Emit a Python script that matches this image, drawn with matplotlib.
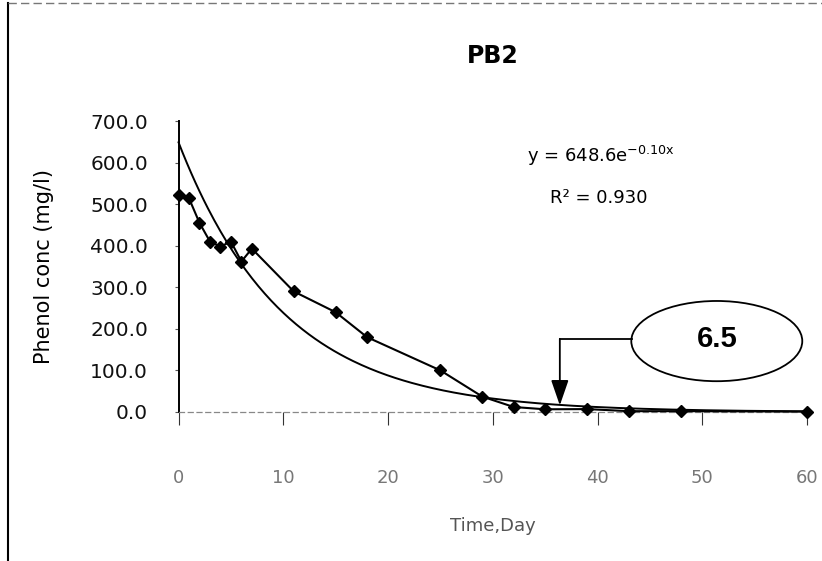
import numpy as np
import matplotlib.pyplot as plt
from matplotlib.patches import Ellipse
from matplotlib.lines import Line2D

# measured phenol concentration, PB2
days = [0, 1, 2, 3, 4, 5, 6, 7, 11, 15, 18, 25, 29, 32, 35, 39, 43, 48, 60]
phenol = [522, 514, 455, 410, 398, 410, 362, 393, 290, 240, 180, 100, 37, 12, 6.5, 7, 2, 2, 1]

# exponential fit y = a * exp(b * x)
fit_a = 648.6
fit_b = -0.10
fit_r2 = 0.930

x_ticks = [0, 10, 20, 30, 40, 50, 60]
y_ticks = [0, 100, 200, 300, 400, 500, 600, 700]

fig = plt.figure(figsize=(8.22, 5.61), dpi=100)
ax = fig.add_axes([0.2172, 0.2656, 0.7646, 0.5187])

ax.plot(days, phenol, color="black", lw=1.5, marker="D", ms=6,
        clip_on=False, zorder=3)

xs = np.linspace(0, 60, 300)
ax.plot(xs, fit_a * np.exp(fit_b * xs), color="black", lw=1.4,
        clip_on=False, zorder=2)

ax.set_xlim(0, 60)
ax.set_ylim(0, 700)
ax.set_xticks(x_ticks)
ax.set_yticks(y_ticks)
ax.set_yticklabels([f"{v:.1f}" for v in y_ticks], fontsize=14.5, color="#111111")
ax.set_xticklabels([str(v) for v in x_ticks], fontsize=13, color="#777777")
ax.tick_params(axis="y", length=3, width=0.8, pad=19, color="#555555")
ax.tick_params(axis="x", length=9, width=0.8, pad=32, color="#333333")

for s in ["top", "right"]:
    ax.spines[s].set_visible(False)
ax.spines["left"].set_linewidth(1.4)
ax.spines["bottom"].set_color("#888888")
ax.spines["bottom"].set_linestyle((0, (4, 3)))
ax.spines["bottom"].set_linewidth(0.9)

ax.set_ylabel("Phenol conc (mg/l)", fontsize=15, labelpad=26)
ax.set_xlabel("Time,Day", fontsize=13, color="#555555", labelpad=22)
ax.set_title("PB2", fontsize=17, pad=42, fontweight="semibold")

ax.text(0.672, 0.88, r"y = 648.6e$^{\mathregular{-0.10x}}$", transform=ax.transAxes,
        ha="center", va="center", fontsize=13)
ax.text(0.668, 0.735, f"R² = {fit_r2:.3f}", transform=ax.transAxes,
        ha="center", va="center", fontsize=13)

# callout for the 6.5 reading
ell = Ellipse((0.872, 0.392), 0.208, 0.143, transform=fig.transFigure,
              facecolor="white", edgecolor="black", lw=1.3)
fig.patches.append(ell)
fig.text(0.872, 0.395, "6.5", ha="center", va="center", fontsize=21,
         fontweight="bold", family="Liberation Sans")
fig.lines.append(Line2D([0.681, 0.769], [0.396, 0.396], transform=fig.transFigure,
                        color="black", lw=1.3))
ax.annotate("", xy=(36.4, 16), xytext=(36.4, 0.396),
            textcoords=("data", "figure fraction"),
            arrowprops=dict(arrowstyle="-|>,head_length=1.3,head_width=0.45",
                            color="black", lw=1.3,
                            mutation_scale=12, shrinkA=0, shrinkB=0))

# outer frame
fig.lines.append(Line2D([0.01, 0.01], [0.0, 0.995], transform=fig.transFigure,
                        color="black", lw=1.5))
fig.lines.append(Line2D([0.01, 1.0], [0.995, 0.995], transform=fig.transFigure,
                        color="#777777", lw=1.0, linestyle=(0, (6, 3))))

fig.savefig("out.png", dpi=100)
